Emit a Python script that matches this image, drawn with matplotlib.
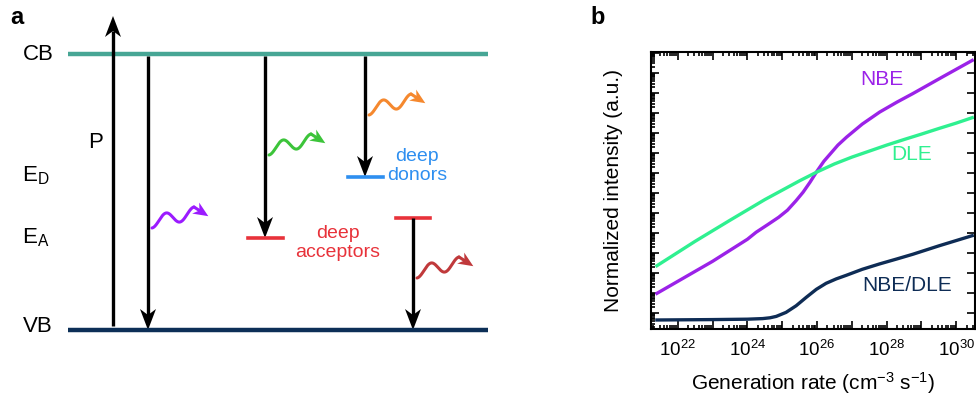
import numpy as np
import matplotlib.pyplot as plt
from matplotlib.patches import Polygon
from matplotlib.ticker import FixedLocator, FuncFormatter, LogLocator, NullFormatter

plt.rcParams['font.family'] = ['Liberation Sans', 'DejaVu Sans']
plt.rcParams['mathtext.fontset'] = 'custom'
plt.rcParams['mathtext.rm'] = 'Liberation Sans'
plt.rcParams['mathtext.it'] = 'Liberation Sans:italic'

# ---- panel a: band diagram (units are pixels, y pointing down) ----
band_x = (68, 488)
cb_y, vb_y = 54, 330
donor_level = (348, 383, 177)          # x0, x1, y
acceptor_levels = [(248, 283, 238), (396, 430, 218)]

# vertical transitions: x, start y, end y
transitions = [(113, 326, 16), (148, 56, 330), (265, 56, 238),
               (365, 56, 177), (413, 218, 330)]

# emitted photons: start point and colour
photons = [((152, 222), '#9b1bff'), ((269, 149), '#3cc43a'),
           ((369, 109), '#f5882e'), ((417, 272), '#c0393b')]

# ---- panel b: intensities vs generation rate (log10 values) ----
log_rate_nbe = [21.4, 22.0, 23.0, 24.0, 24.25, 24.6, 24.9, 25.15, 25.4, 25.6,
                25.8, 26.0, 26.2, 26.4, 26.6, 26.85, 27.3, 27.8, 28.3, 28.75,
                29.6, 30.46]
log_nbe = [1.0, 1.6, 2.6, 3.7, 4.05, 4.45, 4.8, 5.15, 5.63, 6.05,
           6.55, 7.1, 7.6, 8.0, 8.4, 8.8, 9.45, 10.05, 10.55, 10.97,
           11.8, 12.63]

log_rate_dle = [21.4, 22.5, 23.5, 24.5, 25.0, 25.5, 26.0, 26.5, 27.0, 27.5,
                28.0, 28.5, 29.0, 29.5, 30.0, 30.46]
log_dle = [2.38, 3.6, 4.65, 5.68, 6.15, 6.62, 7.06, 7.46, 7.8, 8.1,
           8.4, 8.68, 8.95, 9.23, 9.5, 9.77]

log_rate_ratio = [21.4, 23.0, 24.0, 24.44, 24.65, 24.83, 25.11, 25.4, 25.69,
                  25.98, 26.26, 26.55, 26.84, 27.3, 27.8, 28.3, 28.75, 29.5,
                  30.46]
log_ratio = [-0.33, -0.31, -0.29, -0.26, -0.22, -0.15, 0.05, 0.38, 0.8,
             1.2, 1.5, 1.72, 1.9, 2.2, 2.47, 2.72, 2.95, 3.37,
             3.88]


def vertical_arrow(ax, x, y0, y1, lw=2.4, head_len=21, head_w=16, notch=6):
    d = np.sign(y1 - y0)
    ax.plot([x, x], [y0, y1 - d * (head_len - notch)], color='black', lw=lw,
            solid_capstyle='butt')
    head = [(x, y1), (x - head_w / 2, y1 - d * head_len),
            (x, y1 - d * (head_len - notch)), (x + head_w / 2, y1 - d * head_len)]
    ax.add_patch(Polygon(head, closed=True, color='black', lw=0))


def photon(ax, start, color, length=42, rise=9, amp=6.0, periods=1.5):
    x0, y0 = start
    t = np.linspace(0, 1, 200)
    xs = x0 + length * t
    ys = y0 - rise * t + amp * np.cos(2 * np.pi * periods * t)
    ax.plot(xs, ys, color=color, lw=2.2, solid_capstyle='round')
    # arrow head pointing down-right from the last crest
    ex, ey = xs[-1], ys[-1]
    u = np.array([14.0, 9.0])
    u = u / np.hypot(*u)
    n = np.array([-u[1], u[0]])
    p = np.array([ex, ey])
    tip = p + u * 17
    base = p + u * 2
    ax.plot([ex, base[0] + u[0] * 4], [ey, base[1] + u[1] * 4], color=color,
            lw=2.2, solid_capstyle='round')
    head = [tip, base + n * 6.5, base + u * 4.5, base - n * 6.5]
    ax.add_patch(Polygon(head, closed=True, color=color, lw=0))


fig = plt.figure(figsize=(9.76, 4.03), dpi=100)

ax = fig.add_axes([0, 0, 488 / 976, 1])
ax.set_xlim(0, 488)
ax.set_ylim(403, 0)
ax.axis('off')

ax.plot(band_x, [cb_y, cb_y], color='#47a695', lw=3.2, solid_capstyle='butt')
ax.plot(band_x, [vb_y, vb_y], color='#0c2f57', lw=3.2, solid_capstyle='butt')
ax.plot(donor_level[:2], [donor_level[2]] * 2, color='#2e8ff0', lw=2.6)
for x0, x1, y in acceptor_levels:
    ax.plot([x0, x1], [y, y], color='#e8323a', lw=2.6)

for x, y0, y1 in transitions:
    vertical_arrow(ax, x, y0, y1)

for start, color in photons:
    photon(ax, start, color)

ax.text(10, 18, 'a', fontsize=17, fontweight='bold', ha='left', va='center')
ax.text(38, 55, 'CB', fontsize=16, ha='center', va='center')
ax.text(38, 326, 'VB', fontsize=16, ha='center', va='center')
ax.text(22, 176, r'E$_\mathregular{D}$', fontsize=16, ha='left', va='center')
ax.text(22, 238, r'E$_\mathregular{A}$', fontsize=16, ha='left', va='center')
ax.text(96, 143, 'P', fontsize=16, ha='center', va='center')
ax.text(338, 243, 'deep\nacceptors', fontsize=14, color='#e8323a',
        ha='center', va='center', linespacing=1.1)
ax.text(417, 166, 'deep\ndonors', fontsize=14, color='#2e8ff0',
        ha='center', va='center', linespacing=1.1)

fig.text(590 / 976, 1 - 18 / 403, 'b', fontsize=17, fontweight='bold',
         ha='left', va='center')

# ---- panel b ----
bx = fig.add_axes([651 / 976, 1 - 329 / 403, 324 / 976, 277 / 403])
rate_nbe = 10.0 ** np.array(log_rate_nbe)
rate_dle = 10.0 ** np.array(log_rate_dle)
rate_ratio = 10.0 ** np.array(log_rate_ratio)
bx.plot(rate_nbe, 10.0 ** np.array(log_nbe), color='#9b22e8', lw=2.4)
bx.plot(rate_dle, 10.0 ** np.array(log_dle), color='#2ff090', lw=2.4)
bx.plot(rate_ratio, 10.0 ** np.array(log_ratio), color='#0e2c55', lw=2.4)

bx.set_xscale('log')
bx.set_yscale('log')
bx.set_xlim(10 ** 21.23, 10 ** 30.54)
bx.set_ylim(10 ** -0.78, 10 ** 13.05)

bx.xaxis.set_major_locator(FixedLocator([10.0 ** k for k in range(21, 31)]))
bx.xaxis.set_major_formatter(FuncFormatter(
    lambda v, p: r'$10^{%d}$' % round(np.log10(v)) if round(np.log10(v)) % 2 == 0 else ''))
bx.xaxis.set_minor_locator(LogLocator(base=10, subs=np.arange(2, 10), numticks=40))
bx.xaxis.set_minor_formatter(NullFormatter())
bx.yaxis.set_major_locator(FixedLocator([10.0 ** k for k in range(0, 14)]))
bx.yaxis.set_minor_locator(LogLocator(base=10, subs=np.arange(2, 10), numticks=40))
bx.yaxis.set_major_formatter(NullFormatter())
bx.yaxis.set_minor_formatter(NullFormatter())

bx.tick_params(which='both', direction='in', top=True, right=True, width=1.2)
bx.tick_params(which='major', length=6, labelsize=13.5, pad=8)
bx.tick_params(which='minor', length=3)
bx.tick_params(axis='y', which='minor', right=False)
for s in bx.spines.values():
    s.set_linewidth(1.5)

bx.set_xlabel(r'Generation rate (cm$^{\mathregular{-3}}$ s$^{\mathregular{-1}}$)',
              fontsize=15)
bx.set_ylabel('Normalized intensity (a.u.)', fontsize=15)
bx.xaxis.set_label_coords(0.5, -0.15)
bx.yaxis.set_label_coords(-0.085, 0.5)

bx.text(10 ** 27.87, 10 ** 11.67, 'NBE', color='#9b22e8', fontsize=15,
        ha='center', va='center')
bx.text(10 ** 28.73, 10 ** 7.92, 'DLE', color='#2ff090', fontsize=15,
        ha='center', va='center')
bx.text(10 ** 28.59, 10 ** 1.37, 'NBE/DLE', color='#0e2c55', fontsize=15,
        ha='center', va='center')

fig.savefig('out.png', dpi=100)
